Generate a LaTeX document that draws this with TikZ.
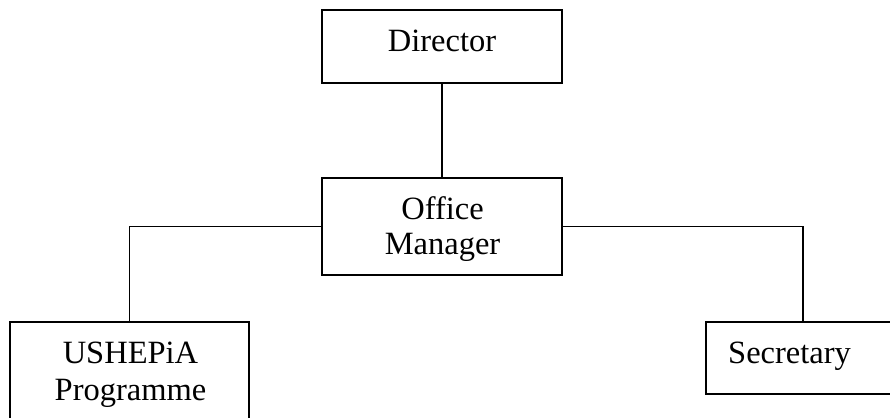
\documentclass[tikz,border=0pt]{standalone}
\usepackage{fontspec}
\setmainfont{Liberation Serif}
\begin{document}
\begin{tikzpicture}[x=1pt,y=-1pt,
  unit/.style={draw=black, line width=1.8pt, rectangle, inner sep=0pt},
  label text/.style={inner sep=0pt, font=\fontsize{32.5}{35}\selectfont},
  link/.style={draw=black, line width=1.8pt}]
  % page frame
  \clip (0,0) rectangle (890,417);
  \fill[white] (0,0) rectangle (890,417);

  % boxes
  \node[unit, minimum width=240pt, minimum height=73pt]  (dir) at (442,46.5)  {};
  \node[unit, minimum width=240pt, minimum height=97pt]  (om)  at (442,226.5) {};
  \node[unit, minimum width=239pt, minimum height=118pt] (ush) at (129.5,381) {};
  \node[unit, minimum width=194pt, minimum height=72pt]  (sec) at (803,358)   {};

  % captions
  \node[label text, anchor=base] (dirT) at (442,52) {Director};
  \node[label text, align=center] (omT) at (442.5,229) {Office\\Manager};
  \node[label text, align=center, font=\fontsize{32.5}{37}\selectfont] (ushT) at (130.5,374.5) {USHEPiA\\Programme};
  \node[label text, anchor=base west] (secT) at (728,363) {Secretary};

  % reporting lines
  \draw[link] (dir.south) -- (om.north);
  \draw[link] (om.west) -| (ush.north);
  \draw[link] (om.east) -| (sec.north);
\end{tikzpicture}
\end{document}
